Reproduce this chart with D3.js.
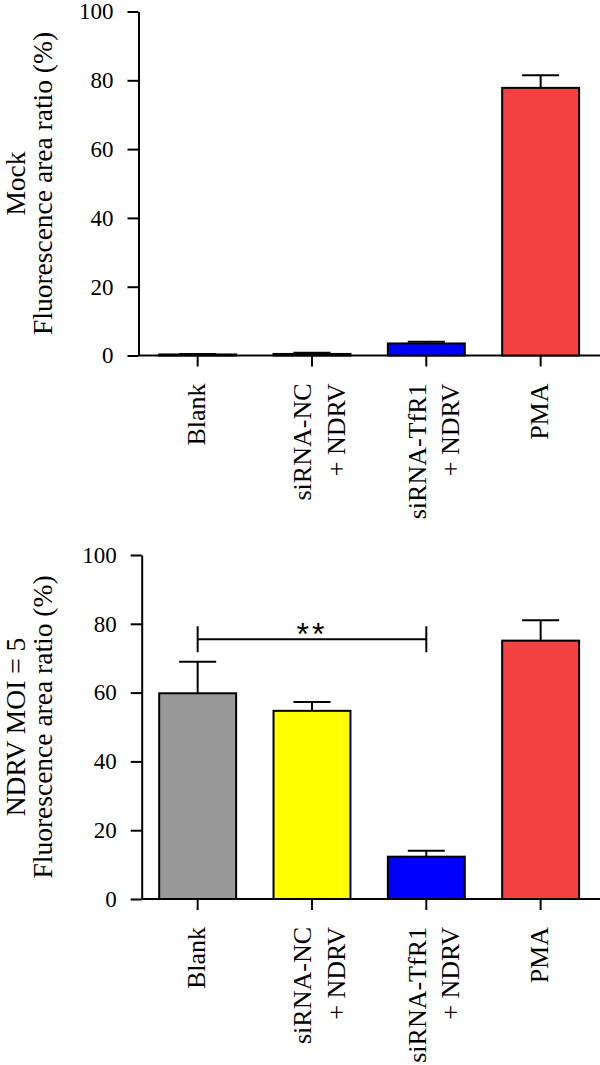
<!DOCTYPE html>
<html>
<head>
<meta charset="utf-8">
<script src="https://cdn.jsdelivr.net/npm/d3@7"></script>
<style>
  html, body { margin: 0; padding: 0; background: #fff; }
  svg { display: block; }
</style>
</head>
<body>
<svg id="chart" width="600" height="1065"></svg>
<script>
// ---- data ----
const categories = ["Blank", "siRNA-NC\n+ NDRV", "siRNA-TfR1\n+ NDRV", "PMA"];
const barColors = ["#999999", "#FFFF00", "#0000FF", "#F44141"];
const yTicks = [0, 20, 40, 60, 80, 100];

const mockTitle = ["Mock", "Fluorescence area ratio (%)"];
const mockMeans = [0.3, 0.45, 3.5, 77.8];
const mockErrors = [0.1, 0.35, 0.5, 3.7];

const ndrvTitle = ["NDRV MOI = 5", "Fluorescence area ratio (%)"];
const ndrvMeans = [59.8, 54.7, 12.3, 75.1];
const ndrvErrors = [9.2, 2.6, 1.7, 5.9];

const ndrvSignificance = [{ from: 0, to: 2, value: 75.5, label: "**" }];

// ---- layout ----
const svg = d3.select("#chart");
const serif = "'Liberation Serif', 'Times New Roman', serif";

const x = d3.scaleBand()
  .domain(categories)
  .range([140.5, 597.8])
  .paddingInner(0.327)
  .paddingOuter(0.1635);

function panel(cfg) {
  const y = d3.scaleLinear().domain([0, 100]).range([cfg.y0, cfg.y100]);
  const g = svg.append("g");

  // y axis
  const yAxis = d3.axisLeft(y).tickValues(yTicks).tickSize(11).tickSizeOuter(0).tickPadding(14);
  const ya = g.append("g").attr("transform", `translate(${cfg.axisX},0)`).call(yAxis);
  ya.selectAll("path, line").attr("stroke", "#000").attr("stroke-width", 2);
  ya.selectAll("text").attr("font-family", serif).attr("font-size", 23).attr("fill", "#000");

  // x axis ticks + baseline
  const xAxis = d3.axisBottom(x).tickSize(11).tickSizeOuter(0).tickFormat("");
  const xa = g.append("g").attr("transform", `translate(0,${cfg.y0})`).call(xAxis);
  xa.select(".domain").remove();
  xa.selectAll("line").attr("stroke", "#000").attr("stroke-width", 2);
  g.append("line")
    .attr("x1", cfg.axisX).attr("x2", 600)
    .attr("y1", cfg.y0).attr("y2", cfg.y0)
    .attr("stroke", "#000").attr("stroke-width", 2);

  // bars
  const data = categories.map((c, i) => ({ c, i, m: cfg.means[i], e: cfg.errors[i] }));
  g.selectAll("rect.bar").data(data).join("rect")
    .attr("class", "bar")
    .attr("x", d => x(d.c))
    .attr("width", x.bandwidth())
    .attr("y", d => y(d.m))
    .attr("height", d => y(0) - y(d.m))
    .attr("fill", d => barColors[d.i])
    .attr("stroke", "#000").attr("stroke-width", 2);

  // error bars (upper only)
  const cap = 37;
  const eb = g.selectAll("g.err").data(data).join("g").attr("class", "err");
  eb.append("line")
    .attr("x1", d => x(d.c) + x.bandwidth() / 2).attr("x2", d => x(d.c) + x.bandwidth() / 2)
    .attr("y1", d => y(d.m)).attr("y2", d => y(d.m + d.e))
    .attr("stroke", "#000").attr("stroke-width", 2);
  eb.append("line")
    .attr("x1", d => x(d.c) + x.bandwidth() / 2 - cap / 2).attr("x2", d => x(d.c) + x.bandwidth() / 2 + cap / 2)
    .attr("y1", d => y(d.m + d.e)).attr("y2", d => y(d.m + d.e))
    .attr("stroke", "#000").attr("stroke-width", 2);

  // category labels (rotated)
  categories.forEach(c => {
    const lines = c.split("\n");
    const cx = x(c) + x.bandwidth() / 2;
    const lg = g.append("g").attr("transform", `translate(${cx},${cfg.y0 + 28}) rotate(-90)`);
    const offs = lines.length === 1 ? [7.5] : [-0.5, 33];
    lines.forEach((t, k) => {
      lg.append("text")
        .attr("x", 0).attr("y", offs[k])
        .attr("text-anchor", "end")
        .attr("font-family", serif).attr("font-size", 26).attr("fill", "#000")
        .text(t);
    });
  });

  // y title (two lines)
  const cy = (cfg.y0 + cfg.y100) / 2;
  const tg = g.append("g").attr("transform", `translate(0,${cy}) rotate(-90)`);
  [24.5, 52].forEach((yy, k) => {
    tg.append("text").attr("x", 0).attr("y", yy)
      .attr("text-anchor", "middle")
      .attr("font-family", serif).attr("font-size", 27.5).attr("fill", "#000")
      .text(cfg.title[k]);
  });

  // significance bracket
  (cfg.sig || []).forEach(s => {
    const xa1 = x(categories[s.from]) + x.bandwidth() / 2;
    const xa2 = x(categories[s.to]) + x.bandwidth() / 2;
    const yy = y(s.value);
    const sg = g.append("g");
    sg.append("line").attr("x1", xa1).attr("x2", xa2).attr("y1", yy).attr("y2", yy)
      .attr("stroke", "#000").attr("stroke-width", 2);
    [xa1, xa2].forEach(xx => {
      sg.append("line").attr("x1", xx).attr("x2", xx).attr("y1", yy - 13).attr("y2", yy + 13)
        .attr("stroke", "#000").attr("stroke-width", 2);
    });
    sg.append("text")
      .attr("x", (xa1 + xa2) / 2).attr("y", yy + 5.5)
      .attr("text-anchor", "middle")
      .attr("font-family", "'Liberation Sans', Arial, sans-serif")
      .attr("font-size", 32).attr("letter-spacing", 3)
      .attr("fill", "#000")
      .text(s.label);
  });
}

panel({ axisX: 138.5, y0: 355.5, y100: 11.5, means: mockMeans, errors: mockErrors, title: mockTitle });
panel({ axisX: 141.7, y0: 899, y100: 555, means: ndrvMeans, errors: ndrvErrors, title: ndrvTitle, sig: ndrvSignificance });
</script>
</body>
</html>
